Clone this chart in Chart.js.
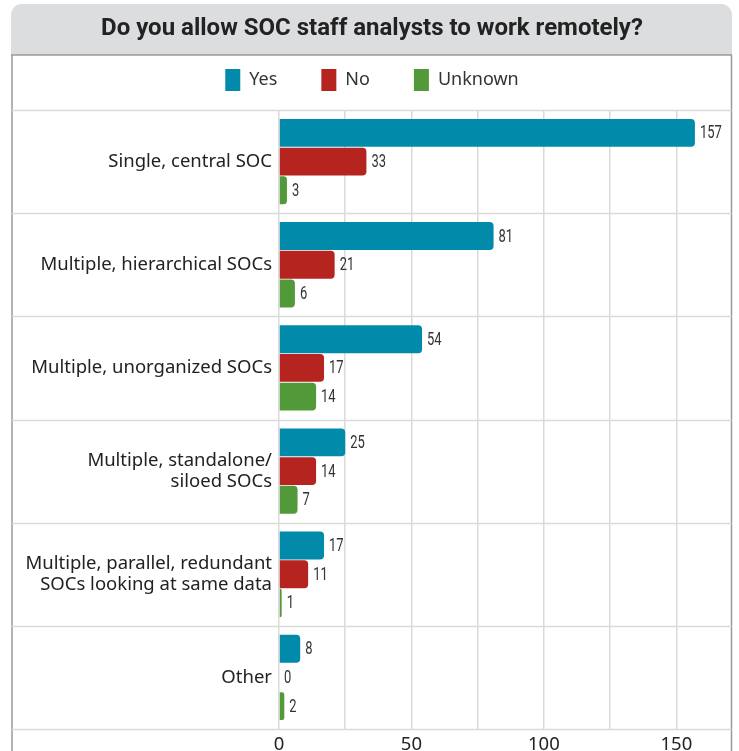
<!DOCTYPE html>
<html><head><meta charset="utf-8">
<script src="https://cdn.jsdelivr.net/npm/chart.js@4/dist/chart.umd.min.js"></script>
<style>html,body{margin:0;padding:0;background:#fff;}#wrap{width:739px;height:751px;position:relative;}</style>
</head><body><div id="wrap"><canvas id="c" width="739" height="751"></canvas></div>
<script>
const titleText = "Do you allow SOC staff analysts to work remotely?";
const categories = ["Single, central SOC", "Multiple, hierarchical SOCs", "Multiple, unorganized SOCs", ["Multiple, standalone/", "siloed SOCs"], ["Multiple, parallel, redundant", "SOCs looking at same data"], "Other"];
const seriesNames = ["Yes", "No", "Unknown"];
const yesValues = [157, 81, 54, 25, 17, 8];
const noValues = [33, 21, 17, 14, 11, 0];
const unknownValues = [3, 6, 14, 7, 1, 2];
const xTickLabels = [0, 50, 100, 150];

const seriesColors = ["#018aaa", "#b5241f", "#52993a"];
const FRAME_L = 12, FRAME_R = 731.5;

const framePlugin = {
  id: 'frame',
  beforeDraw(chart) {
    const ctx = chart.ctx;
    ctx.save();
    ctx.fillStyle = '#fff';
    ctx.fillRect(0, 0, chart.width, chart.height);
    const x0 = 11, x1 = 732, y0 = 4, y1 = 55, r = 11;
    ctx.beginPath();
    ctx.moveTo(x0, y1);
    ctx.lineTo(x0, y0 + r);
    ctx.arcTo(x0, y0, x0 + r, y0, r);
    ctx.lineTo(x1 - r, y0);
    ctx.arcTo(x1, y0, x1, y0 + r, r);
    ctx.lineTo(x1, y1);
    ctx.closePath();
    ctx.fillStyle = '#dcdddf';
    ctx.fill();
    ctx.strokeStyle = '#9a9a9a';
    ctx.lineWidth = 1.5;
    ctx.beginPath();
    ctx.moveTo(x0, y1); ctx.lineTo(x1, y1);
    ctx.moveTo(FRAME_L, y1); ctx.lineTo(FRAME_L, chart.height);
    ctx.moveTo(FRAME_R, y1); ctx.lineTo(FRAME_R, chart.height);
    ctx.stroke();
    ctx.restore();
  },
  beforeDatasetsDraw(chart) {
    const ctx = chart.ctx, a = chart.chartArea, ys = chart.scales.y;
    const n = ys.ticks.length;
    const step = (a.bottom - a.top) / n;
    ctx.save();
    ctx.strokeStyle = '#dadada';
    ctx.lineWidth = 1.5;
    ctx.beginPath();
    for (let k = 0; k <= n; k++) {
      const y = Math.round(a.top + k * step) + 0.5;
      ctx.moveTo(FRAME_L, y); ctx.lineTo(FRAME_R, y);
    }
    ctx.stroke();
    ctx.restore();
  }
};

const valueLabelPlugin = {
  id: 'valueLabels',
  afterDatasetsDraw(chart) {
    const ctx = chart.ctx;
    const sx = 0.72;
    ctx.save();
    ctx.font = "18px Roboto, sans-serif";
    ctx.fillStyle = '#333';
    ctx.textAlign = 'left';
    ctx.textBaseline = 'middle';
    chart.data.datasets.forEach((ds, di) => {
      const meta = chart.getDatasetMeta(di);
      meta.data.forEach((bar, i) => {
        ctx.save();
        ctx.translate(bar.x + 5, bar.y + 1);
        ctx.scale(sx, 1);
        ctx.fillText(String(ds.data[i]), 0, 0);
        ctx.restore();
      });
    });
    ctx.restore();
  }
};

new Chart(document.getElementById('c'), {
  type: 'bar',
  data: {
    labels: categories,
    datasets: [
      { label: seriesNames[0], data: yesValues, backgroundColor: seriesColors[0], xAxisID: 'x' },
      { label: seriesNames[1], data: noValues, backgroundColor: seriesColors[1], xAxisID: 'x' },
      { label: seriesNames[2], data: unknownValues, backgroundColor: seriesColors[2], xAxisID: 'x' }
    ]
  },
  options: {
    indexAxis: 'y',
    responsive: false,
    animation: false,
    devicePixelRatio: 1,
    datasets: { bar: { categoryPercentage: 0.835, barPercentage: 0.97, borderRadius: 4, borderSkipped: 'start' } },
    layout: { padding: { left: 12, right: 7, top: 0, bottom: 0 } },
    plugins: {
      title: {
        display: true,
        text: titleText,
        color: '#222',
        font: { family: 'Roboto', size: 24, weight: 'bold' },
        padding: { top: 15, bottom: -18.8 }
      },
      legend: {
        display: true,
        position: 'top',
        labels: {
          boxWidth: 15, boxHeight: 22, padding: 44,
          color: '#333',
          font: { family: "'Noto Sans'", size: 18 }
        }
      },
      tooltip: { enabled: false }
    },
    scales: {
      x: {
        min: 0, max: 171,
        ticks: {
          stepSize: 25, includeBounds: false, padding: 5,
          color: '#222', font: { family: "'Noto Sans'", size: 18.5 },
          callback: (v) => xTickLabels.includes(v) ? String(v) : ''
        },
        grid: { color: '#dadada', lineWidth: 1.5, drawTicks: false },
        border: { display: false },
        afterFit: (s) => { s.height = 22; }
      },
      xSpacer: {
        type: 'linear', axis: 'x', position: 'top', min: 0, max: 171,
        grid: { display: false, drawTicks: false },
        border: { display: false },
        ticks: { display: false },
        afterFit: (s) => { s.height = 9; }
      },
      y: {
        ticks: { color: '#222', font: { family: "'Noto Sans'", size: 18.5, lineHeight: 1.15 }, padding: 7, autoSkip: false },
        grid: { display: false, drawTicks: false },
        border: { display: false },
        afterFit: (s) => { s.width = 267; }
      }
    }
  },
  plugins: [framePlugin, valueLabelPlugin]
});
</script></body></html>
